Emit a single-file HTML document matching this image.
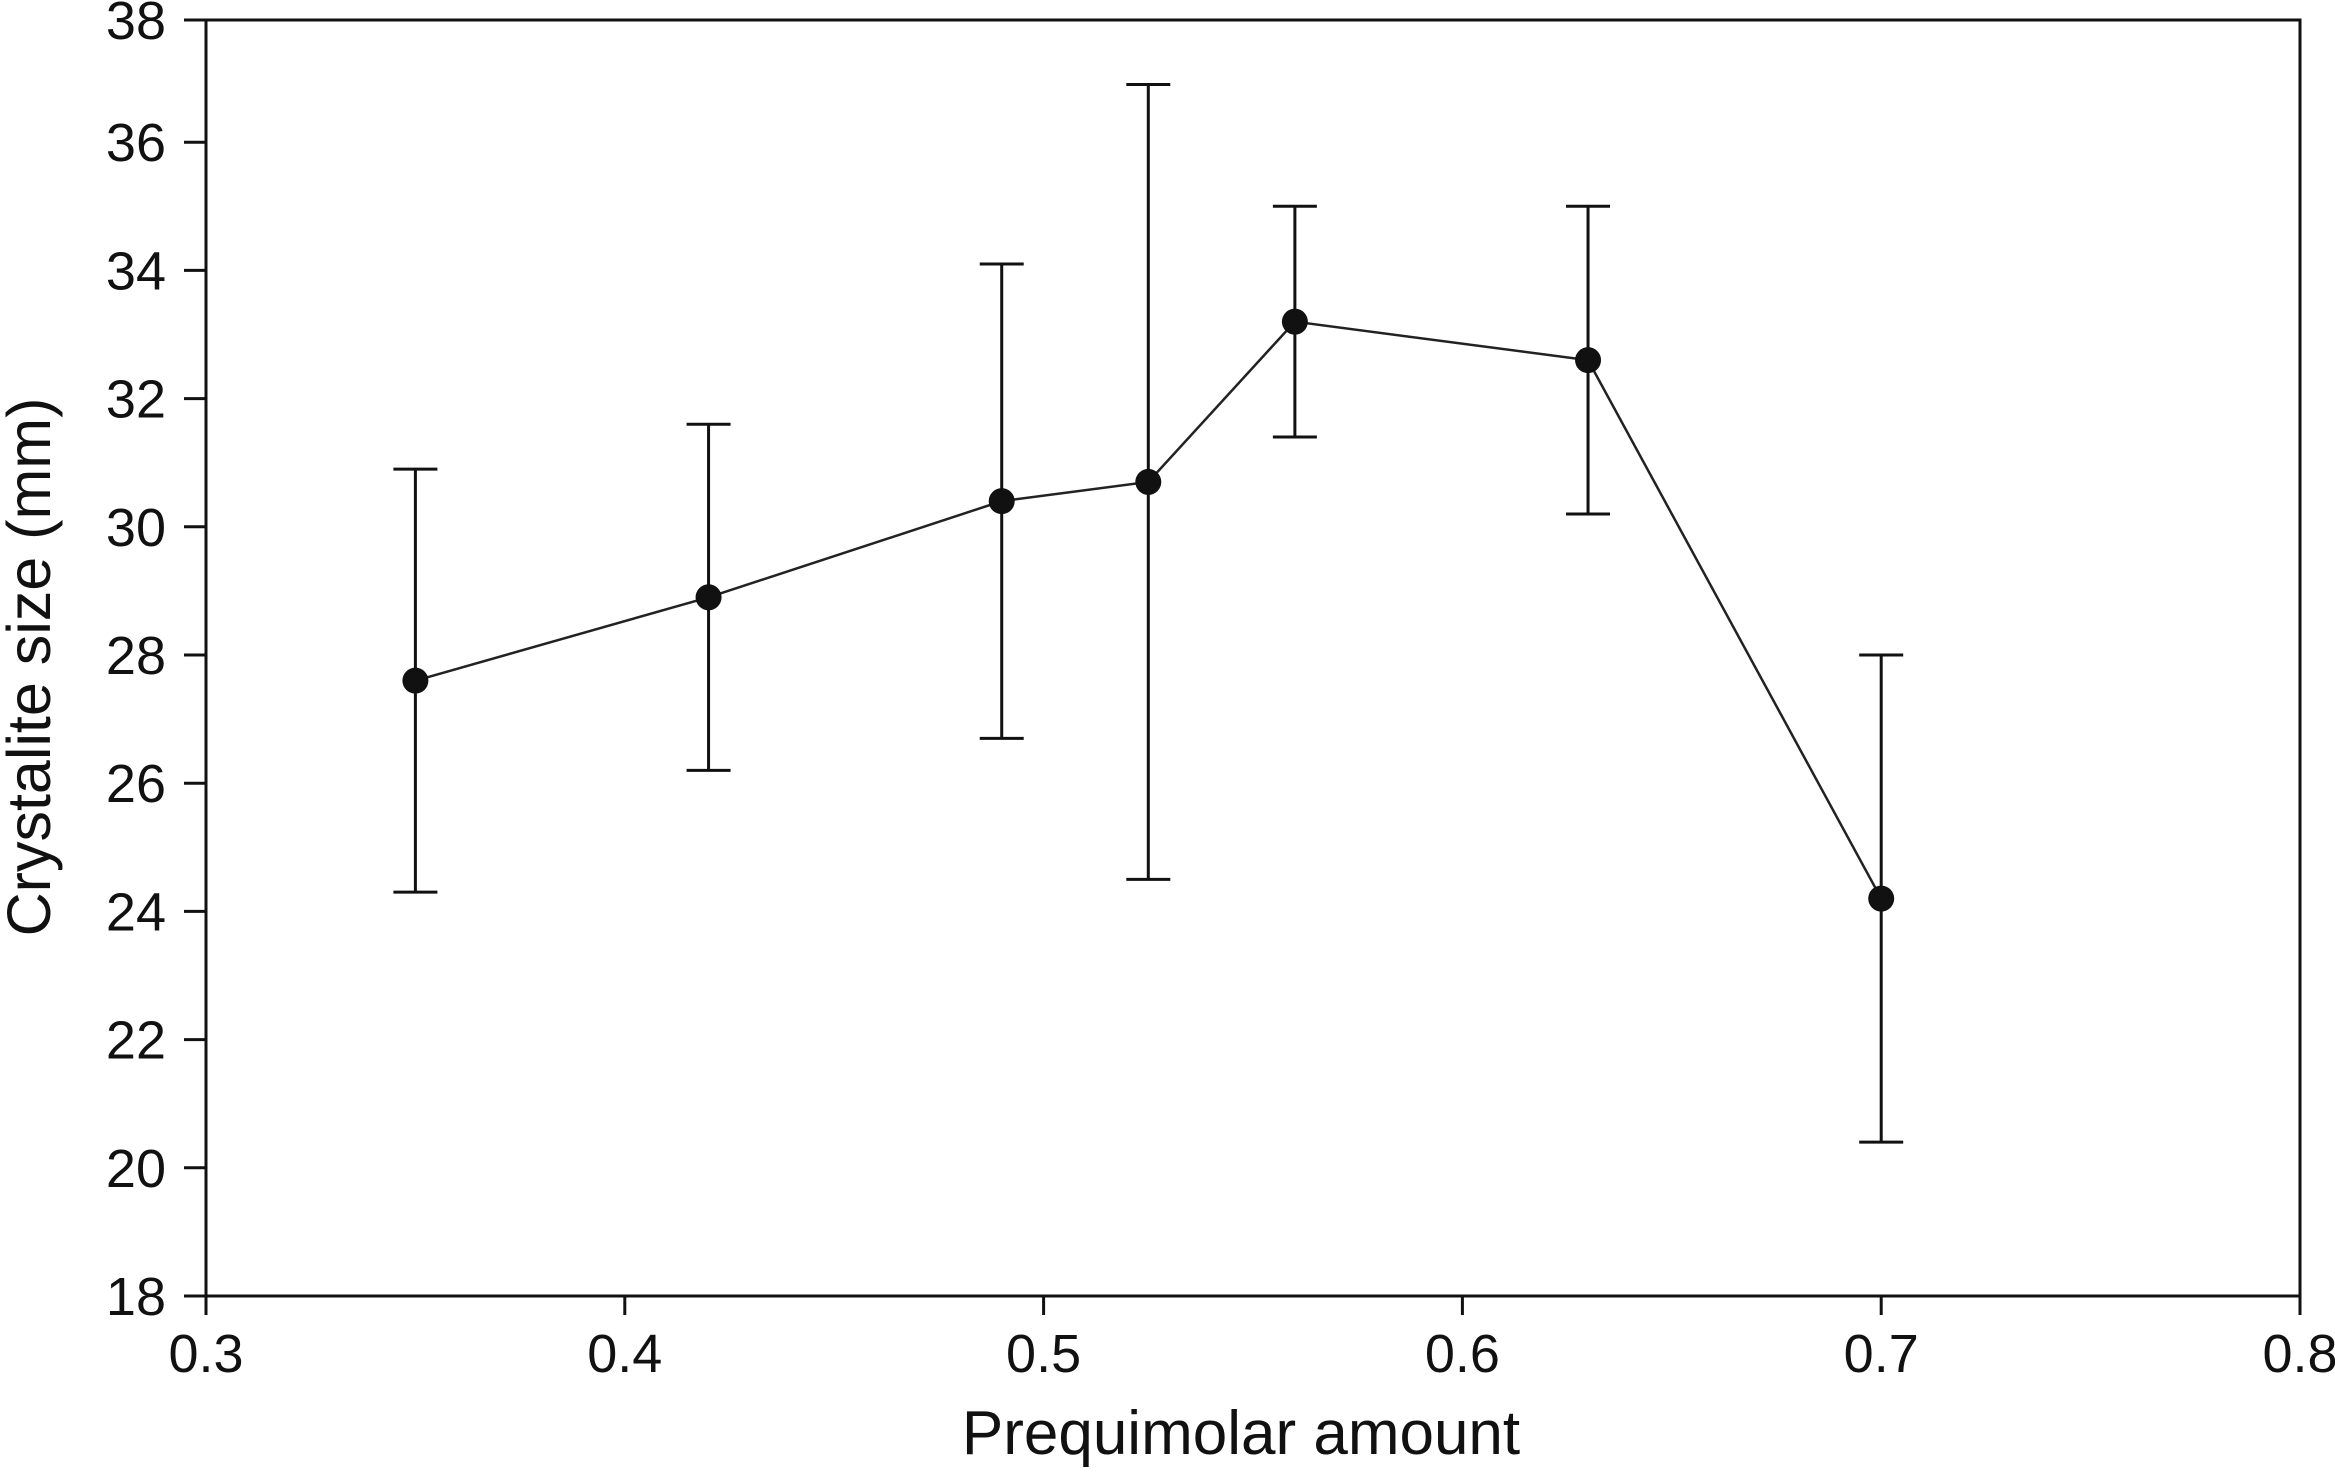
<!DOCTYPE html>
<html><head><meta charset="utf-8"><style>
html,body{margin:0;padding:0;background:#fff;}
svg{display:block;font-family:"Liberation Sans",Arial,sans-serif;}
</style></head><body>
<svg id="chart" width="2335" height="1472" viewBox="0 0 2335 1472" xmlns="http://www.w3.org/2000/svg">
<g id="axes"></g>
<g id="series"></g>
<text x="1241" y="1454" font-size="62" text-anchor="middle" fill="#111">Prequimolar amount</text>
<text transform="translate(50,667) rotate(-90)" font-size="61" text-anchor="middle" fill="#111">Crystalite size (mm)</text>
</svg>
<script>
const xValues = [0.35, 0.42, 0.49, 0.525, 0.56, 0.63, 0.70];
const yValues = [27.6, 28.9, 30.4, 30.7, 33.2, 32.6, 24.2];
const errLow = [24.3, 26.2, 26.7, 24.5, 31.4, 30.2, 20.4];
const errHigh = [30.9, 31.6, 34.1, 36.9, 35.0, 35.0, 28.0];
const xTicks = [0.3, 0.4, 0.5, 0.6, 0.7, 0.8];
const xTickLabels = ["0.3", "0.4", "0.5", "0.6", "0.7", "0.8"];
const yTicks = [18, 20, 22, 24, 26, 28, 30, 32, 34, 36, 38];
const yTickLabels = ["18", "20", "22", "24", "26", "28", "30", "32", "34", "36", "38"];

const NS = "http://www.w3.org/2000/svg";
const X0 = 206, X1 = 2300, Y18 = 1296, YPER = 128.2;
const TOPY = 20;
function sx(v){ return X0 + (v - 0.3) / 0.5 * (X1 - X0); }
function sy(v){ return Y18 - (v - 18) / 2 * YPER; }
function mk(tag, attrs, parent){
  const e = document.createElementNS(NS, tag);
  for (const k in attrs) e.setAttribute(k, attrs[k]);
  parent.appendChild(e);
  return e;
}
const axesG = document.getElementById('axes');
const seriesG = document.getElementById('series');
const frame = mk('path', {d:`M${X0},${TOPY} H${X1} V${Y18} H${X0} Z`, fill:'none', stroke:'#111', 'stroke-width':3}, axesG);


yTicks.forEach((t, i) => {
  const y = (t === 38) ? TOPY : sy(t);
  const l = mk('line', {x1:X0-22, x2:X0, y1:y, y2:y, stroke:'#111', 'stroke-width':3}, axesG);
  
  
  const tx = mk('text', {x:X0-40, y:y+19, 'font-size':54, 'text-anchor':'end', fill:'#111'}, axesG);
  tx.textContent = yTickLabels[i];
  
  
});
xTicks.forEach((t, i) => {
  const x = sx(t);
  const l = mk('line', {x1:x, x2:x, y1:Y18, y2:Y18+19, stroke:'#111', 'stroke-width':3}, axesG);
  
  
  const tx = mk('text', {x:x, y:Y18+76, 'font-size':54, 'text-anchor':'middle', fill:'#111'}, axesG);
  tx.textContent = xTickLabels[i];
  
  
});
const pts = xValues.map((x, i) => sx(x) + ',' + sy(yValues[i])).join(' ');
const line = mk('polyline', {points:pts, fill:'none', stroke:'#222', 'stroke-width':2.5}, seriesG);


xValues.forEach((x, i) => {
  const cx = sx(x);
  const eb = mk('path', {d:`M${cx},${sy(errLow[i])} V${sy(errHigh[i])} M${cx-22},${sy(errLow[i])} H${cx+22} M${cx-22},${sy(errHigh[i])} H${cx+22}`, fill:'none', stroke:'#111', 'stroke-width':3}, seriesG);
  
  
  const c = mk('circle', {cx:cx, cy:sy(yValues[i]), r:13, fill:'#111'}, seriesG);
  
  
});
</script>
</body></html>
